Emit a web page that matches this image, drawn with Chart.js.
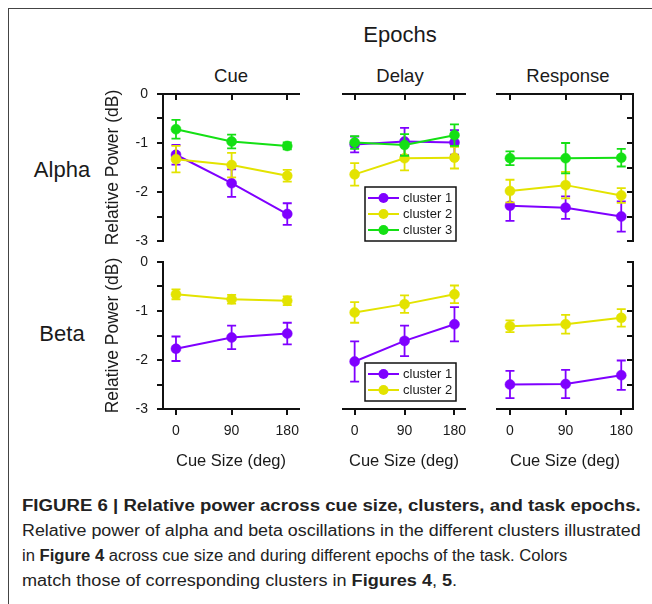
<!DOCTYPE html>
<html><head><meta charset="utf-8">
<script src="https://cdn.jsdelivr.net/npm/chart.js@4.4.1/dist/chart.umd.min.js"></script>
<style>
html,body{margin:0;padding:0;background:#fff;}
body{width:652px;height:604px;position:relative;overflow:hidden;font-family:"Liberation Sans",Arial,Helvetica,sans-serif;color:#1a1a1a;}
.frame{position:absolute;left:8px;top:8px;width:700px;height:700px;border-top:1px solid #444;border-left:1px solid #444;}
.lbl{position:absolute;white-space:nowrap;transform:translate(-50%,-50%);line-height:1;}
canvas{position:absolute;}
.cap{position:absolute;left:22px;white-space:nowrap;font-size:16px;line-height:1;transform-origin:0 50%;color:#222;}
</style></head><body>
<div class="frame"></div>
<div class="lbl" style="left:400px;top:35px;font-size:22px">Epochs</div>
<div class="lbl" style="left:231px;top:76px;font-size:18.5px">Cue</div>
<div class="lbl" style="left:400px;top:76px;font-size:18.5px">Delay</div>
<div class="lbl" style="left:568px;top:76px;font-size:18.5px">Response</div>
<div class="lbl" style="left:62px;top:170px;font-size:22px">Alpha</div>
<div class="lbl" style="left:62px;top:334px;font-size:22px">Beta</div>

<canvas id="aCue"></canvas>
<canvas id="aDelay"></canvas>
<canvas id="aResp"></canvas>
<canvas id="bCue"></canvas>
<canvas id="bDelay"></canvas>
<canvas id="bResp"></canvas>

<div class="cap" data-w="619" style="top:506px"><b>FIGURE 6 | Relative power across cue size, clusters, and task epochs.</b></div>
<div class="cap" data-w="619" style="top:531px">Relative power of alpha and beta oscillations in the different clusters illustrated</div>
<div class="cap" data-w="545" style="top:556px">in <b>Figure 4</b> across cue size and during different epochs of the task. Colors</div>
<div class="cap" data-w="435" style="top:581px">match those of corresponding clusters in <b>Figures 4</b>, <b>5</b>.</div>

<script>
// ---------- data ----------
const cueSizes = [0, 90, 180];
const xTickLabels = ['0', '90', '180'];
const yTickValues = [0, -0.5, -1, -1.5, -2, -2.5, -3];
const yTickLabels = ['0', '', '-1', '', '-2', '', '-3'];
const seriesNames = ['cluster 1', 'cluster 2', 'cluster 3'];
const seriesColors = ['#7f00ff', '#e3e300', '#14e014'];
const xTitle = 'Cue Size (deg)';
const yTitle = 'Relative Power (dB)';

// Alpha – Cue
const alphaCueC1 = [-1.24, -1.82, -2.45];
const alphaCueC1Err = [0.20, 0.28, 0.22];
const alphaCueC2 = [-1.33, -1.45, -1.67];
const alphaCueC2Err = [0.27, 0.25, 0.12];
const alphaCueC3 = [-0.72, -0.97, -1.06];
const alphaCueC3Err = [0.19, 0.14, 0.07];
// Alpha – Delay
const alphaDelayC1 = [-1.03, -0.97, -0.99];
const alphaDelayC1Err = [0.16, 0.28, 0.25];
const alphaDelayC2 = [-1.64, -1.31, -1.30];
const alphaDelayC2Err = [0.23, 0.25, 0.22];
const alphaDelayC3 = [-0.99, -1.04, -0.84];
const alphaDelayC3Err = [0.13, 0.22, 0.22];
// Alpha – Response
const alphaRespC1 = [-2.28, -2.32, -2.50];
const alphaRespC1Err = [0.31, 0.23, 0.31];
const alphaRespC2 = [-1.98, -1.86, -2.07];
const alphaRespC2Err = [0.23, 0.27, 0.15];
const alphaRespC3 = [-1.31, -1.31, -1.30];
const alphaRespC3Err = [0.14, 0.31, 0.18];
// Beta – Cue
const betaCueC1 = [-1.77, -1.54, -1.46];
const betaCueC1Err = [0.25, 0.24, 0.22];
const betaCueC2 = [-0.66, -0.76, -0.79];
const betaCueC2Err = [0.10, 0.09, 0.09];
// Beta – Delay
const betaDelayC1 = [-2.03, -1.61, -1.27];
const betaDelayC1Err = [0.41, 0.31, 0.35];
const betaDelayC2 = [-1.03, -0.86, -0.66];
const betaDelayC2Err = [0.21, 0.18, 0.18];
// Beta – Response
const betaRespC1 = [-2.50, -2.49, -2.31];
const betaRespC1Err = [0.28, 0.29, 0.30];
const betaRespC2 = [-1.31, -1.27, -1.14];
const betaRespC2Err = [0.12, 0.19, 0.18];

// ---------- styling ----------
const FONT = '"Liberation Sans", Arial, Helvetica, sans-serif';
const AXIS = '#111';
const TXT = '#1a1a1a';

const errorBars = {
  id: 'errorBars',
  beforeDatasetDraw(chart, args) {
    const ds = chart.data.datasets[args.index];
    if (!ds.errors) return;
    const ctx = chart.ctx, xs = chart.scales.x, ys = chart.scales.y, cap = 4.5;
    ctx.save();
    ctx.strokeStyle = ds.borderColor;
    ctx.lineWidth = 1.8;
    ds.data.forEach((p, i) => {
      const e = ds.errors[i];
      const px = xs.getPixelForValue(p.x);
      const y1 = ys.getPixelForValue(p.y + e), y2 = ys.getPixelForValue(p.y - e);
      ctx.beginPath();
      ctx.moveTo(px, y1); ctx.lineTo(px, y2);
      ctx.moveTo(px - cap, y1); ctx.lineTo(px + cap, y1);
      ctx.moveTo(px - cap, y2); ctx.lineTo(px + cap, y2);
      ctx.stroke();
    });
    ctx.restore();
  }
};

const boxLegend = {
  id: 'boxLegend',
  afterDraw(chart, args, opts) {
    if (!opts || !opts.show) return;
    const ctx = chart.ctx, a = chart.chartArea;
    const n = chart.data.datasets.length;
    const x0 = a.left + opts.dx, y0 = a.top + opts.dy, w = opts.w, rowH = 16, pad = 3;
    const h = pad * 2 + rowH * n;
    ctx.save();
    ctx.fillStyle = '#fff';
    ctx.fillRect(x0, y0, w, h);
    ctx.strokeStyle = '#111';
    ctx.lineWidth = 1.5;
    ctx.strokeRect(x0, y0, w, h);
    for (let i = 0; i < n; i++) {
      const cy = y0 + pad + rowH * i + rowH / 2;
      const col = seriesColors[i];
      ctx.strokeStyle = col; ctx.lineWidth = 2;
      ctx.beginPath(); ctx.moveTo(x0 + 3, cy); ctx.lineTo(x0 + 34, cy); ctx.stroke();
      ctx.fillStyle = col;
      ctx.beginPath(); ctx.arc(x0 + 18.5, cy, 5, 0, Math.PI * 2); ctx.fill();
      ctx.fillStyle = TXT;
      ctx.font = '13px ' + FONT;
      ctx.textBaseline = 'middle';
      ctx.textAlign = 'left';
      ctx.fillText(seriesNames[i], x0 + 38, cy + 0.5);
    }
    ctx.restore();
  }
};

function zeroPad(s) { s.paddingLeft = 0; s.paddingRight = 0; s.paddingTop = 0; s.paddingBottom = 0; }

function makePanel(id, rect, area, sides, series, legend) {
  const cv = document.getElementById(id);
  cv.width = rect.w; cv.height = rect.h;
  cv.style.left = rect.x + 'px'; cv.style.top = rect.y + 'px';
  cv.style.width = rect.w + 'px'; cv.style.height = rect.h + 'px';
  const dl = area.l - rect.x, dr = rect.x + rect.w - area.r;
  const dt = area.t - rect.y, db = rect.y + rect.h - area.b;
  const padding = {
    left: sides.left ? 0 : dl,
    right: sides.right ? 0 : dr,
    top: sides.top ? 0 : dt,
    bottom: sides.top ? db : 0
  };
  const datasets = series.map((s, k) => ({
    label: seriesNames[k],
    data: cueSizes.map((x, i) => ({ x: x, y: s.v[i] })),
    errors: s.e,
    borderColor: seriesColors[k],
    backgroundColor: seriesColors[k],
    pointBackgroundColor: seriesColors[k],
    pointBorderColor: seriesColors[k],
    pointRadius: 5,
    pointBorderWidth: 0.5,
    borderWidth: 2,
    tension: 0,
    order: 10 - k
  }));
  const hasY = !!(sides.left || sides.right);
  return new Chart(cv, {
    type: 'line',
    data: { datasets },
    plugins: [errorBars, boxLegend],
    options: {
      responsive: false, animation: false, devicePixelRatio: 1,
      layout: { padding, autoPadding: false },
      plugins: {
        legend: { display: false }, tooltip: { enabled: false },
        boxLegend: legend || { show: false }
      },
      scales: {
        x: {
          type: 'linear', position: sides.top ? 'top' : 'bottom', min: -21, max: 199,
          afterBuildTicks: s => { s.ticks = cueSizes.map(v => ({ value: v })); },
          grid: { drawOnChartArea: false, drawTicks: true, tickLength: sides.top ? -6 : 6, lineWidth: 2, color: AXIS },
          border: { display: true, width: 2, color: AXIS },
          ticks: {
            display: !sides.top, autoSkip: false, maxRotation: 0, padding: 8, color: TXT,
            font: { size: 14, family: FONT },
            callback: (v, i) => xTickLabels[i]
          },
          title: { display: !sides.top, text: xTitle, color: TXT, font: { size: 16.5, family: FONT }, padding: { top: 0, bottom: 7 } },
          afterFit: s => { s.height = sides.top ? dt : db; zeroPad(s); }
        },
        y: {
          type: 'linear', display: hasY, position: sides.right ? 'right' : 'left', min: -3, max: 0,
          afterBuildTicks: s => { s.ticks = yTickValues.map(v => ({ value: v })); },
          grid: { drawOnChartArea: false, drawTicks: true, tickLength: sides.right ? -6 : 6, lineWidth: 2, color: AXIS },
          border: { display: true, width: 2, color: AXIS },
          ticks: {
            display: !!sides.left, autoSkip: false, padding: 9, color: TXT,
            font: { size: 14, family: FONT },
            callback: (v, i) => yTickLabels[i]
          },
          title: { display: !!sides.left, text: yTitle, color: TXT, font: { size: 17.5, family: FONT }, padding: { top: 8, bottom: 0 } },
          afterFit: s => { s.width = sides.right ? dr : dl; zeroPad(s); }
        }
      }
    }
  });
}

const colCue = { l: 163, r: 299 }, colDelay = { l: 329, r: 465 }, colResp = { l: 497, r: 633 };
const rowA = { t: 94, b: 241 }, rowB = { t: 262, b: 409 };

makePanel('aCue', { x: 95, y: 84, w: 210, h: 166 }, { l: colCue.l, r: colCue.r, t: rowA.t, b: rowA.b },
  { left: true, top: true },
  [{ v: alphaCueC1, e: alphaCueC1Err }, { v: alphaCueC2, e: alphaCueC2Err }, { v: alphaCueC3, e: alphaCueC3Err }]);
makePanel('aDelay', { x: 315, y: 84, w: 165, h: 166 }, { l: colDelay.l, r: colDelay.r, t: rowA.t, b: rowA.b },
  { top: true },
  [{ v: alphaDelayC1, e: alphaDelayC1Err }, { v: alphaDelayC2, e: alphaDelayC2Err }, { v: alphaDelayC3, e: alphaDelayC3Err }],
  { show: true, dx: 22, dy: 93, w: 91 });
makePanel('aResp', { x: 483, y: 84, w: 165, h: 166 }, { l: colResp.l, r: colResp.r, t: rowA.t, b: rowA.b },
  { right: true, top: true },
  [{ v: alphaRespC1, e: alphaRespC1Err }, { v: alphaRespC2, e: alphaRespC2Err }, { v: alphaRespC3, e: alphaRespC3Err }]);
makePanel('bCue', { x: 95, y: 250, w: 210, h: 228 }, { l: colCue.l, r: colCue.r, t: rowB.t, b: rowB.b },
  { left: true, bottom: true },
  [{ v: betaCueC1, e: betaCueC1Err }, { v: betaCueC2, e: betaCueC2Err }]);
makePanel('bDelay', { x: 315, y: 250, w: 165, h: 228 }, { l: colDelay.l, r: colDelay.r, t: rowB.t, b: rowB.b },
  { bottom: true },
  [{ v: betaDelayC1, e: betaDelayC1Err }, { v: betaDelayC2, e: betaDelayC2Err }],
  { show: true, dx: 22, dy: 101, w: 91 });
makePanel('bResp', { x: 483, y: 250, w: 165, h: 228 }, { l: colResp.l, r: colResp.r, t: rowB.t, b: rowB.b },
  { right: true, bottom: true },
  [{ v: betaRespC1, e: betaRespC1Err }, { v: betaRespC2, e: betaRespC2Err }]);

// fit caption lines to the reference widths
document.querySelectorAll('.cap').forEach(el => {
  const k = (+el.dataset.w) / el.offsetWidth;
  el.style.transform = 'translateY(-50%) scaleX(' + k.toFixed(4) + ')';
});
</script>
</body></html>
